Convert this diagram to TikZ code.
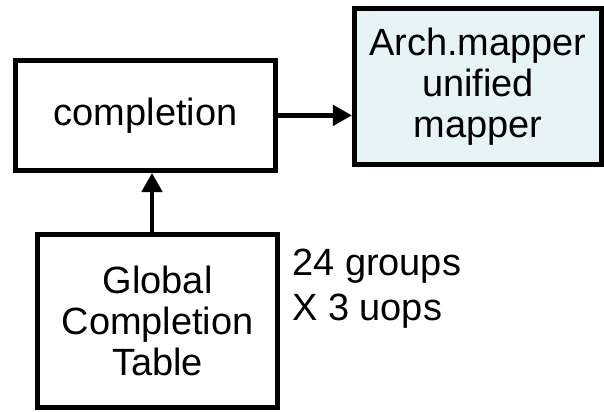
\documentclass[tikz,border=0pt]{standalone}
\usepackage{fontspec}
\setmainfont{Liberation Sans}
\usepackage{tikz}
\usetikzlibrary{arrows.meta,calc,positioning,shapes}
\definecolor{mapfill}{HTML}{E6F4F6}
\newcommand{\blockfont}{\fontsize{27}{29}\selectfont}

\begin{document}
\begin{tikzpicture}[
		block/.style={rectangle, draw, line width=3.5pt, align=center, font=\blockfont, inner sep=2pt},
		->,>={Triangle[length=0.48cm,width=0.5cm]}
		]
		\useasboundingbox (0,0) rectangle (15.1,10.275);
	
		% blocs
		\node[block, minimum width=6.5cm, minimum height=2.75cm] (comp) at (3.64, 7.39) {completion};
		\node[block, fill=mapfill, minimum width=6.175cm, minimum height=3.9cm] (amap) at (11.95, 8.11) {Arch.mapper\\unified\\mapper};
		\node[block, minimum width=6cm, minimum height=4.325cm] (gct) at (3.94, 2.25) {Global\\Completion\\Table};
		\node[anchor=west, align=left, font=\fontsize{27}{32}\selectfont, inner sep=0pt] (size) at (7.3, 3.05) {24 groups\\X 3 uops};
	
		% fleches
		\draw[line width=3.5pt] (comp.east) -- (comp.east -| amap.west);
		\draw[line width=3.5pt] ([xshift=-0.14cm]gct.north) -- ([xshift=-0.14cm]gct.north |- comp.south);
	\end{tikzpicture}
\end{document}
